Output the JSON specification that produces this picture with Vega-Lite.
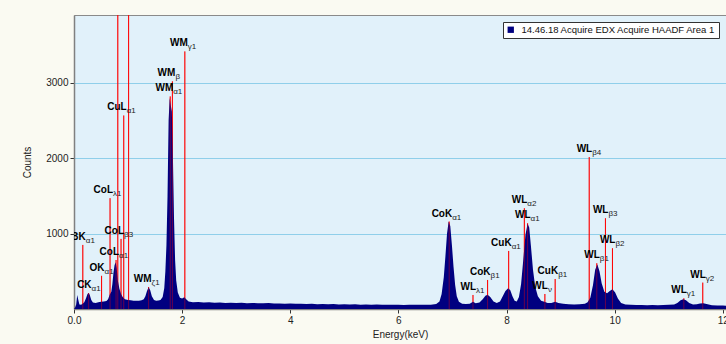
{
  "$schema": "https://vega.github.io/schema/vega-lite/v6.json",
  "width": 652,
  "height": 294,
  "autosize": {"type": "none"},
  "padding": {"left": 74, "top": 15, "right": 0, "bottom": 35},
  "background": "#FAFAF2",
  "config": {
    "view": {"fill": "#E1F1FA", "stroke": "#8a8a8a", "strokeWidth": 1},
    "font": "Liberation Sans",
    "axis": {
      "labelFont": "Liberation Sans", "labelFontSize": 10, "labelColor": "#222",
      "titleFont": "Liberation Sans", "titleFontSize": 10, "titleFontWeight": "normal", "titleColor": "#222",
      "domainColor": "#808080", "domainWidth": 1.5, "tickColor": "#333", "tickSize": 4, "labelFlush": false
    },
    "legend": {
      "orient": "top-right", "offset": 7, "fillColor": "white", "strokeColor": "#333",
      "padding": 3, "symbolType": "square", "symbolSize": 40, "symbolStrokeWidth": 0,
      "labelFont": "Liberation Sans", "labelFontSize": 9.5, "labelColor": "#111", "labelOffset": 6,
      "labelLimit": 0
    }
  },
  "datasets": {
    "spectrum": [
      {"e": 0.00, "c": 0}, {"e": 0.02, "c": 20}, {"e": 0.04, "c": 60}, {"e": 0.06, "c": 185}, {"e": 0.08, "c": 120},
      {"e": 0.10, "c": 60}, {"e": 0.13, "c": 55}, {"e": 0.16, "c": 70}, {"e": 0.19, "c": 90}, {"e": 0.22, "c": 140},
      {"e": 0.25, "c": 200}, {"e": 0.27, "c": 212}, {"e": 0.29, "c": 190}, {"e": 0.32, "c": 120}, {"e": 0.35, "c": 85},
      {"e": 0.40, "c": 80}, {"e": 0.45, "c": 88}, {"e": 0.50, "c": 95}, {"e": 0.55, "c": 98}, {"e": 0.60, "c": 105},
      {"e": 0.63, "c": 130}, {"e": 0.66, "c": 190}, {"e": 0.69, "c": 230}, {"e": 0.71, "c": 330}, {"e": 0.73, "c": 480},
      {"e": 0.75, "c": 580}, {"e": 0.77, "c": 620}, {"e": 0.79, "c": 540}, {"e": 0.81, "c": 380}, {"e": 0.84, "c": 270},
      {"e": 0.87, "c": 200}, {"e": 0.90, "c": 160}, {"e": 0.94, "c": 130}, {"e": 1.00, "c": 120}, {"e": 1.05, "c": 115},
      {"e": 1.10, "c": 110}, {"e": 1.15, "c": 108}, {"e": 1.20, "c": 110}, {"e": 1.25, "c": 115}, {"e": 1.29, "c": 130},
      {"e": 1.32, "c": 170}, {"e": 1.35, "c": 240}, {"e": 1.38, "c": 290}, {"e": 1.41, "c": 250}, {"e": 1.44, "c": 170},
      {"e": 1.48, "c": 120}, {"e": 1.52, "c": 110}, {"e": 1.56, "c": 112}, {"e": 1.60, "c": 118}, {"e": 1.64, "c": 160},
      {"e": 1.67, "c": 280}, {"e": 1.69, "c": 500}, {"e": 1.71, "c": 850}, {"e": 1.73, "c": 1500}, {"e": 1.75, "c": 2500},
      {"e": 1.77, "c": 2800}, {"e": 1.79, "c": 2700}, {"e": 1.81, "c": 2620}, {"e": 1.83, "c": 2000}, {"e": 1.85, "c": 1200},
      {"e": 1.87, "c": 650}, {"e": 1.89, "c": 380}, {"e": 1.92, "c": 220}, {"e": 1.96, "c": 150}, {"e": 2.00, "c": 140},
      {"e": 2.04, "c": 155}, {"e": 2.08, "c": 125}, {"e": 2.12, "c": 100}, {"e": 2.2, "c": 90}, {"e": 2.3, "c": 92},
      {"e": 2.4, "c": 85}, {"e": 2.5, "c": 88}, {"e": 2.6, "c": 82}, {"e": 2.7, "c": 86}, {"e": 2.8, "c": 80},
      {"e": 2.9, "c": 84}, {"e": 3.0, "c": 78}, {"e": 3.1, "c": 82}, {"e": 3.2, "c": 76}, {"e": 3.3, "c": 80},
      {"e": 3.4, "c": 77}, {"e": 3.5, "c": 75}, {"e": 3.6, "c": 78}, {"e": 3.7, "c": 72}, {"e": 3.8, "c": 74},
      {"e": 3.9, "c": 70}, {"e": 4.0, "c": 72}, {"e": 4.1, "c": 68}, {"e": 4.2, "c": 70}, {"e": 4.3, "c": 66},
      {"e": 4.4, "c": 68}, {"e": 4.5, "c": 64}, {"e": 4.6, "c": 66}, {"e": 4.7, "c": 62}, {"e": 4.8, "c": 65},
      {"e": 4.9, "c": 61}, {"e": 5.0, "c": 63}, {"e": 5.1, "c": 60}, {"e": 5.2, "c": 62}, {"e": 5.3, "c": 58},
      {"e": 5.4, "c": 60}, {"e": 5.5, "c": 57}, {"e": 5.6, "c": 59}, {"e": 5.7, "c": 56}, {"e": 5.8, "c": 58},
      {"e": 5.9, "c": 55}, {"e": 6.0, "c": 57}, {"e": 6.1, "c": 54}, {"e": 6.2, "c": 56}, {"e": 6.3, "c": 55},
      {"e": 6.4, "c": 56}, {"e": 6.5, "c": 57}, {"e": 6.6, "c": 58}, {"e": 6.7, "c": 65}, {"e": 6.76, "c": 100},
      {"e": 6.80, "c": 200}, {"e": 6.84, "c": 420}, {"e": 6.87, "c": 700}, {"e": 6.90, "c": 1000}, {"e": 6.93, "c": 1160},
      {"e": 6.96, "c": 1100}, {"e": 6.99, "c": 850}, {"e": 7.02, "c": 560}, {"e": 7.05, "c": 320}, {"e": 7.08, "c": 170},
      {"e": 7.12, "c": 95}, {"e": 7.18, "c": 70}, {"e": 7.25, "c": 65}, {"e": 7.32, "c": 68}, {"e": 7.38, "c": 95},
      {"e": 7.43, "c": 75}, {"e": 7.50, "c": 85}, {"e": 7.56, "c": 130}, {"e": 7.61, "c": 175}, {"e": 7.65, "c": 190},
      {"e": 7.70, "c": 160}, {"e": 7.76, "c": 100}, {"e": 7.82, "c": 80}, {"e": 7.88, "c": 100}, {"e": 7.93, "c": 170},
      {"e": 7.98, "c": 240}, {"e": 8.03, "c": 275}, {"e": 8.07, "c": 250}, {"e": 8.11, "c": 170}, {"e": 8.15, "c": 110},
      {"e": 8.19, "c": 100}, {"e": 8.23, "c": 160}, {"e": 8.27, "c": 330}, {"e": 8.31, "c": 650}, {"e": 8.35, "c": 980},
      {"e": 8.39, "c": 1130}, {"e": 8.42, "c": 1080}, {"e": 8.45, "c": 850}, {"e": 8.49, "c": 520}, {"e": 8.53, "c": 300},
      {"e": 8.58, "c": 170}, {"e": 8.64, "c": 110}, {"e": 8.70, "c": 95}, {"e": 8.76, "c": 80}, {"e": 8.83, "c": 78},
      {"e": 8.90, "c": 95}, {"e": 8.96, "c": 80}, {"e": 9.05, "c": 68}, {"e": 9.15, "c": 62}, {"e": 9.25, "c": 60},
      {"e": 9.35, "c": 62}, {"e": 9.45, "c": 70}, {"e": 9.50, "c": 90}, {"e": 9.55, "c": 150}, {"e": 9.60, "c": 320},
      {"e": 9.64, "c": 520}, {"e": 9.68, "c": 590}, {"e": 9.72, "c": 500}, {"e": 9.76, "c": 340}, {"e": 9.81, "c": 230},
      {"e": 9.86, "c": 210}, {"e": 9.91, "c": 240}, {"e": 9.96, "c": 262}, {"e": 10.01, "c": 220}, {"e": 10.06, "c": 140},
      {"e": 10.12, "c": 80}, {"e": 10.2, "c": 60}, {"e": 10.3, "c": 55}, {"e": 10.4, "c": 52}, {"e": 10.5, "c": 54},
      {"e": 10.6, "c": 50}, {"e": 10.7, "c": 52}, {"e": 10.8, "c": 50}, {"e": 10.9, "c": 52}, {"e": 11.0, "c": 55},
      {"e": 11.1, "c": 60}, {"e": 11.16, "c": 80}, {"e": 11.22, "c": 115}, {"e": 11.27, "c": 130}, {"e": 11.32, "c": 115},
      {"e": 11.38, "c": 80}, {"e": 11.45, "c": 60}, {"e": 11.52, "c": 62}, {"e": 11.58, "c": 72}, {"e": 11.64, "c": 75},
      {"e": 11.70, "c": 65}, {"e": 11.8, "c": 50}, {"e": 11.9, "c": 45}, {"e": 12.0, "c": 45}, {"e": 12.1, "c": 42}
    ],
    "lines": [
      {"e": 0.163, "c": 850, "m": "BK", "s": "α1"},
      {"e": 0.27, "c": 212, "m": "CK", "s": "α1"},
      {"e": 0.51, "c": 440, "m": "OK", "s": "α1"},
      {"e": 0.667, "c": 1470, "m": "CoL", "s": "λ1"},
      {"e": 0.778, "c": 650, "m": "CoL", "s": "α1"},
      {"e": 0.87, "c": 930, "m": "CoL", "s": "β3"},
      {"e": 0.92, "c": 2567, "m": "CuL", "s": "α1"},
      {"e": 0.81, "c": 4500, "m": "", "s": ""},
      {"e": 1.01, "c": 4500, "m": "", "s": ""},
      {"e": 1.38, "c": 292, "m": "WM", "s": "ζ1"},
      {"e": 1.78, "c": 2820, "m": "WM", "s": "α1"},
      {"e": 1.82, "c": 3020, "m": "WM", "s": "β"},
      {"e": 2.05, "c": 3417, "m": "WM", "s": "γ1"},
      {"e": 6.94, "c": 1160, "m": "CoK", "s": "α1"},
      {"e": 7.38, "c": 186, "m": "WL", "s": "λ1"},
      {"e": 7.65, "c": 385, "m": "CoK", "s": "β1"},
      {"e": 8.04, "c": 770, "m": "CuK", "s": "α1"},
      {"e": 8.33, "c": 1337, "m": "WL", "s": "α2"},
      {"e": 8.39, "c": 1138, "m": "WL", "s": "α1"},
      {"e": 8.71, "c": 199, "m": "WL", "s": "ν"},
      {"e": 8.90, "c": 398, "m": "CuK", "s": "β1"},
      {"e": 9.53, "c": 2015, "m": "WL", "s": "β4"},
      {"e": 9.67, "c": 607, "m": "WL", "s": "β1"},
      {"e": 9.83, "c": 1204, "m": "WL", "s": "β3"},
      {"e": 9.96, "c": 806, "m": "WL", "s": "β2"},
      {"e": 11.28, "c": 142, "m": "WL", "s": "γ1"},
      {"e": 11.63, "c": 350, "m": "WL", "s": "γ2"}
    ]
  },
  "encoding": {
    "x": {
      "field": "e", "type": "quantitative",
      "scale": {"domain": [0, 12.06], "nice": false, "zero": false},
      "axis": {
        "title": "Energy(keV)", "values": [0, 2, 4, 6, 8, 10, 12], "grid": false,
        "labelExpr": "datum.value == 0 ? '0.0' : datum.label", "titlePadding": 4, "labelPadding": 2
      }
    },
    "y": {
      "field": "c", "type": "quantitative",
      "scale": {"domain": [0, 3900], "nice": false},
      "axis": {
        "title": "Counts", "values": [1000, 2000, 3000], "format": "d", "grid": true,
        "gridColor": "#8FCFEA", "gridWidth": 1, "titlePadding": 13, "labelPadding": 2
      }
    }
  },
  "layer": [
    {
      "data": {"name": "lines"},
      "mark": {"type": "rule", "color": "#FF0000", "strokeWidth": 1, "clip": true},
      "encoding": {"y2": {"datum": 0}}
    },
    {
      "data": {"name": "spectrum"},
      "mark": {"type": "area", "interpolate": "linear", "clip": true},
      "encoding": {
        "color": {
          "datum": "14.46.18 Acquire EDX Acquire HAADF Area 1",
          "scale": {"range": ["#000080"]},
          "legend": {"title": null}
        }
      }
    },
    {
      "data": {"name": "lines"},
      "mark": {"type": "rule", "color": "#FF0000", "strokeWidth": 1, "opacity": 0.4, "clip": true},
      "encoding": {"y2": {"datum": 0}}
    },
    {
      "data": {"name": "lines"},
      "mark": {"type": "text", "align": "right", "baseline": "alphabetic", "dx": 3, "dy": -5,
               "fontSize": 10, "fontWeight": "bold", "color": "#000", "clip": true},
      "encoding": {"text": {"field": "m"}}
    },
    {
      "data": {"name": "lines"},
      "mark": {"type": "text", "align": "left", "baseline": "alphabetic", "dx": 3, "dy": -2,
               "fontSize": 8, "color": "#222", "clip": true},
      "encoding": {"text": {"field": "s"}}
    }
  ]
}
